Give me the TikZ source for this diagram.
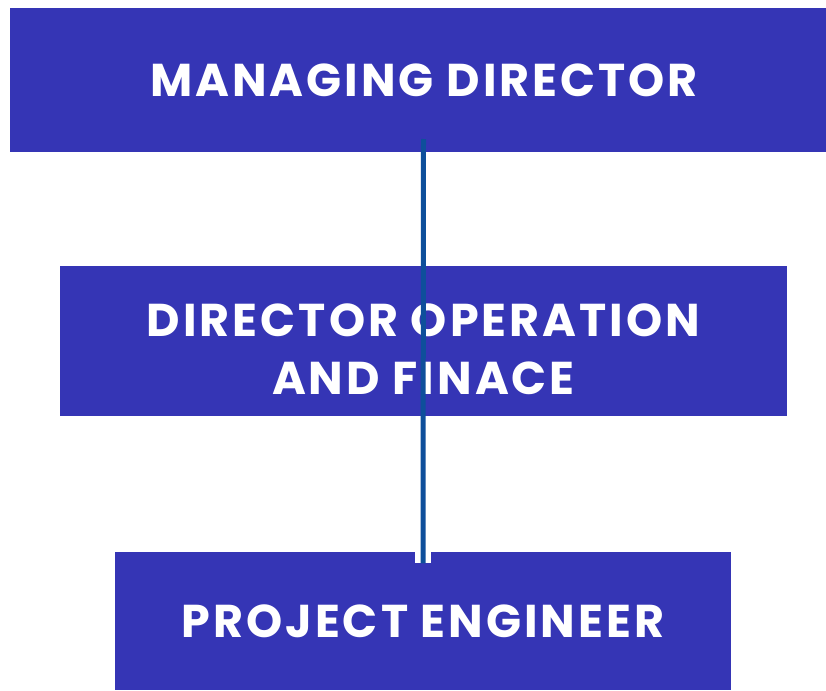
\documentclass[tikz,border=0pt]{standalone}
\usepackage{fontspec}
\setmainfont{Poppins}[LetterSpace=6.5]
\usepackage{xcolor}
\definecolor{boxblue}{HTML}{3535B5}
\definecolor{linkblue}{HTML}{0E4F9B}

\begin{document}
\begin{tikzpicture}[x=1pt, y=-1pt, line width=0.5pt,
		box/.style={fill=boxblue, inner sep=0pt, align=center,
			text=white, font=\fontsize{46}{58}\selectfont\bfseries},
		link/.style={draw=linkblue, line width=5pt}]
	\useasboundingbox (0,0) rectangle (826,690);

	\node[box, minimum width=816pt, minimum height=144pt] (md) at (418, 80) {\hspace*{12pt}MANAGING DIRECTOR};
	\node[box, minimum width=727pt, minimum height=150pt] (dof) at (423.5, 341) {\rule{0pt}{50pt}DIRECTOR OPERATION\\AND FINACE};
	\node[box, minimum width=616pt, minimum height=138pt] (pe) at (423, 621) {PROJECT ENGINEER};

	\node[fill=white, inner sep=0pt, minimum width=16pt, minimum height=11pt] (notch) at (423, 557.5) {};
	\coordinate (lnA) at (423.5, 139);

	\draw[link] (lnA) -- (notch.south);
\end{tikzpicture}
\end{document}
